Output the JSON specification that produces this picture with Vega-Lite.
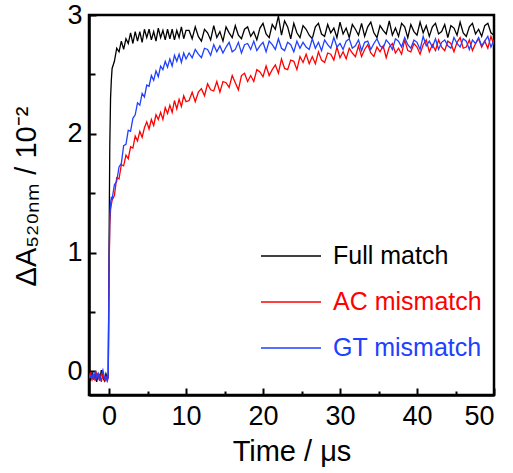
{
"$schema": "https://vega.github.io/schema/vega-lite/v6.json",
"width": 405, "height": 380,
"autosize": {"type": "none"},
"padding": {"left": 89, "top": 15, "right": 19, "bottom": 78},
"background": "white",
"config": {"font": "Liberation Sans", "view": {"stroke": "black", "strokeWidth": 2.5}},
"data": {"values": [
{"t":-2.6,"Full match":-0.04,"AC mismatch":-0.06,"GT mismatch":-0.02},
{"t":-2.4,"Full match":-0.08,"AC mismatch":-0.02,"GT mismatch":-0.05},
{"t":-2.2,"Full match":-0.01,"AC mismatch":-0.07,"GT mismatch":-0.03},
{"t":-2.0,"Full match":-0.06,"AC mismatch":-0.03,"GT mismatch":-0.07},
{"t":-1.8,"Full match":-0.03,"AC mismatch":-0.08,"GT mismatch":0.0},
{"t":-1.6,"Full match":-0.09,"AC mismatch":-0.01,"GT mismatch":-0.06},
{"t":-1.4,"Full match":-0.02,"AC mismatch":-0.06,"GT mismatch":-0.02},
{"t":-1.2,"Full match":-0.07,"AC mismatch":-0.02,"GT mismatch":-0.08},
{"t":-1.0,"Full match":0.01,"AC mismatch":-0.09,"GT mismatch":-0.03},
{"t":-0.8,"Full match":-0.05,"AC mismatch":-0.03,"GT mismatch":0.01},
{"t":-0.6,"Full match":-0.08,"AC mismatch":-0.07,"GT mismatch":-0.05},
{"t":-0.4,"Full match":-0.02,"AC mismatch":-0.04,"GT mismatch":-0.08},
{"t":-0.2,"Full match":-0.06,"AC mismatch":-0.08,"GT mismatch":-0.03},
{"t":-0.1,"Full match":-0.04,"AC mismatch":-0.05,"GT mismatch":-0.06},
{"t":0.0,"Full match":1.0,"AC mismatch":0.8,"GT mismatch":0.85},
{"t":0.1,"Full match":1.9,"AC mismatch":1.22,"GT mismatch":1.28},
{"t":0.2,"Full match":2.3,"AC mismatch":1.36,"GT mismatch":1.42},
{"t":0.3,"Full match":2.45,"AC mismatch":1.4,"GT mismatch":1.46},
{"t":0.4,"Full match":2.55,"AC mismatch":1.44,"GT mismatch":1.45},
{"t":0.7,"Full match":2.61,"AC mismatch":1.48,"GT mismatch":1.57},
{"t":1.0,"Full match":2.72,"AC mismatch":1.63,"GT mismatch":1.60},
{"t":1.3,"Full match":2.69,"AC mismatch":1.62,"GT mismatch":1.72},
{"t":1.6,"Full match":2.78,"AC mismatch":1.74,"GT mismatch":1.75},
{"t":1.9,"Full match":2.71,"AC mismatch":1.73,"GT mismatch":1.90},
{"t":2.2,"Full match":2.80,"AC mismatch":1.82,"GT mismatch":1.91},
{"t":2.5,"Full match":2.76,"AC mismatch":1.79,"GT mismatch":2.03},
{"t":2.8,"Full match":2.85,"AC mismatch":1.89,"GT mismatch":2.02},
{"t":3.1,"Full match":2.76,"AC mismatch":1.88,"GT mismatch":2.13},
{"t":3.4,"Full match":2.86,"AC mismatch":1.98,"GT mismatch":2.16},
{"t":3.7,"Full match":2.78,"AC mismatch":1.94,"GT mismatch":2.26},
{"t":4.0,"Full match":2.86,"AC mismatch":2.02,"GT mismatch":2.24},
{"t":4.3,"Full match":2.77,"AC mismatch":1.97,"GT mismatch":2.34},
{"t":4.6,"Full match":2.88,"AC mismatch":2.05,"GT mismatch":2.31},
{"t":4.9,"Full match":2.81,"AC mismatch":2.10,"GT mismatch":2.41},
{"t":5.2,"Full match":2.88,"AC mismatch":2.04,"GT mismatch":2.40},
{"t":5.5,"Full match":2.79,"AC mismatch":2.12,"GT mismatch":2.49},
{"t":5.8,"Full match":2.86,"AC mismatch":2.07,"GT mismatch":2.45},
{"t":6.1,"Full match":2.78,"AC mismatch":2.16,"GT mismatch":2.53},
{"t":6.4,"Full match":2.89,"AC mismatch":2.12,"GT mismatch":2.48},
{"t":6.7,"Full match":2.81,"AC mismatch":2.18,"GT mismatch":2.57},
{"t":7.0,"Full match":2.87,"AC mismatch":2.12,"GT mismatch":2.54},
{"t":7.3,"Full match":2.79,"AC mismatch":2.22,"GT mismatch":2.61},
{"t":7.6,"Full match":2.88,"AC mismatch":2.17,"GT mismatch":2.56},
{"t":7.9,"Full match":2.80,"AC mismatch":2.24,"GT mismatch":2.63},
{"t":8.2,"Full match":2.88,"AC mismatch":2.18,"GT mismatch":2.57},
{"t":8.5,"Full match":2.79,"AC mismatch":2.28,"GT mismatch":2.66},
{"t":8.8,"Full match":2.87,"AC mismatch":2.21,"GT mismatch":2.61},
{"t":9.1,"Full match":2.81,"AC mismatch":2.29,"GT mismatch":2.67},
{"t":9.4,"Full match":2.90,"AC mismatch":2.23,"GT mismatch":2.60},
{"t":9.7,"Full match":2.80,"AC mismatch":2.32,"GT mismatch":2.68},
{"t":10.0,"Full match":2.87,"AC mismatch":2.27,"GT mismatch":2.63},
{"t":10.4,"Full match":2.87,"AC mismatch":2.28,"GT mismatch":2.68},
{"t":10.8,"Full match":2.80,"AC mismatch":2.35,"GT mismatch":2.64},
{"t":11.2,"Full match":2.90,"AC mismatch":2.27,"GT mismatch":2.71},
{"t":11.6,"Full match":2.82,"AC mismatch":2.35,"GT mismatch":2.67},
{"t":12.0,"Full match":2.78,"AC mismatch":2.38,"GT mismatch":2.64},
{"t":12.4,"Full match":2.88,"AC mismatch":2.32,"GT mismatch":2.72},
{"t":12.8,"Full match":2.85,"AC mismatch":2.42,"GT mismatch":2.71},
{"t":13.2,"Full match":2.79,"AC mismatch":2.37,"GT mismatch":2.66},
{"t":13.6,"Full match":2.91,"AC mismatch":2.36,"GT mismatch":2.75},
{"t":14.0,"Full match":2.81,"AC mismatch":2.44,"GT mismatch":2.69},
{"t":14.4,"Full match":2.86,"AC mismatch":2.35,"GT mismatch":2.74},
{"t":14.8,"Full match":2.78,"AC mismatch":2.44,"GT mismatch":2.68},
{"t":15.2,"Full match":2.90,"AC mismatch":2.43,"GT mismatch":2.73},
{"t":15.6,"Full match":2.85,"AC mismatch":2.39,"GT mismatch":2.77},
{"t":16.0,"Full match":2.81,"AC mismatch":2.49,"GT mismatch":2.69},
{"t":16.4,"Full match":2.91,"AC mismatch":2.43,"GT mismatch":2.71},
{"t":16.8,"Full match":2.83,"AC mismatch":2.37,"GT mismatch":2.77},
{"t":17.2,"Full match":2.80,"AC mismatch":2.49,"GT mismatch":2.68},
{"t":17.6,"Full match":2.88,"AC mismatch":2.51,"GT mismatch":2.75},
{"t":18.0,"Full match":2.90,"AC mismatch":2.44,"GT mismatch":2.76},
{"t":18.4,"Full match":2.82,"AC mismatch":2.49,"GT mismatch":2.71},
{"t":18.8,"Full match":2.86,"AC mismatch":2.44,"GT mismatch":2.78},
{"t":19.2,"Full match":2.79,"AC mismatch":2.54,"GT mismatch":2.70},
{"t":19.6,"Full match":2.89,"AC mismatch":2.52,"GT mismatch":2.74},
{"t":20.0,"Full match":2.93,"AC mismatch":2.48,"GT mismatch":2.77},
{"t":20.4,"Full match":2.84,"AC mismatch":2.57,"GT mismatch":2.69},
{"t":20.8,"Full match":2.81,"AC mismatch":2.49,"GT mismatch":2.78},
{"t":21.2,"Full match":2.92,"AC mismatch":2.54,"GT mismatch":2.75},
{"t":21.6,"Full match":2.88,"AC mismatch":2.58,"GT mismatch":2.71},
{"t":22.0,"Full match":2.99,"AC mismatch":2.51,"GT mismatch":2.80},
{"t":22.4,"Full match":2.83,"AC mismatch":2.63,"GT mismatch":2.72},
{"t":22.8,"Full match":2.95,"AC mismatch":2.55,"GT mismatch":2.70},
{"t":23.2,"Full match":2.90,"AC mismatch":2.54,"GT mismatch":2.77},
{"t":23.6,"Full match":2.80,"AC mismatch":2.62,"GT mismatch":2.75},
{"t":24.0,"Full match":2.93,"AC mismatch":2.61,"GT mismatch":2.69},
{"t":24.4,"Full match":2.85,"AC mismatch":2.54,"GT mismatch":2.78},
{"t":24.8,"Full match":2.81,"AC mismatch":2.65,"GT mismatch":2.72},
{"t":25.2,"Full match":2.91,"AC mismatch":2.60,"GT mismatch":2.77},
{"t":25.6,"Full match":2.88,"AC mismatch":2.67,"GT mismatch":2.73},
{"t":26.0,"Full match":2.83,"AC mismatch":2.59,"GT mismatch":2.71},
{"t":26.4,"Full match":2.80,"AC mismatch":2.65,"GT mismatch":2.80},
{"t":26.8,"Full match":2.90,"AC mismatch":2.59,"GT mismatch":2.72},
{"t":27.2,"Full match":2.93,"AC mismatch":2.69,"GT mismatch":2.77},
{"t":27.6,"Full match":2.84,"AC mismatch":2.62,"GT mismatch":2.70},
{"t":28.0,"Full match":2.82,"AC mismatch":2.60,"GT mismatch":2.79},
{"t":28.4,"Full match":2.92,"AC mismatch":2.68,"GT mismatch":2.75},
{"t":28.8,"Full match":2.85,"AC mismatch":2.67,"GT mismatch":2.72},
{"t":29.2,"Full match":2.89,"AC mismatch":2.62,"GT mismatch":2.81},
{"t":29.6,"Full match":2.81,"AC mismatch":2.73,"GT mismatch":2.73},
{"t":30.0,"Full match":2.94,"AC mismatch":2.64,"GT mismatch":2.76},
{"t":30.4,"Full match":2.84,"AC mismatch":2.69,"GT mismatch":2.71},
{"t":30.8,"Full match":2.89,"AC mismatch":2.63,"GT mismatch":2.78},
{"t":31.2,"Full match":2.81,"AC mismatch":2.72,"GT mismatch":2.80},
{"t":31.6,"Full match":2.92,"AC mismatch":2.68,"GT mismatch":2.72},
{"t":32.0,"Full match":2.88,"AC mismatch":2.65,"GT mismatch":2.74},
{"t":32.4,"Full match":2.83,"AC mismatch":2.74,"GT mismatch":2.79},
{"t":32.8,"Full match":2.93,"AC mismatch":2.65,"GT mismatch":2.70},
{"t":33.2,"Full match":2.82,"AC mismatch":2.71,"GT mismatch":2.77},
{"t":33.6,"Full match":2.90,"AC mismatch":2.75,"GT mismatch":2.78},
{"t":34.0,"Full match":2.94,"AC mismatch":2.68,"GT mismatch":2.71},
{"t":34.4,"Full match":2.85,"AC mismatch":2.65,"GT mismatch":2.76},
{"t":34.8,"Full match":2.81,"AC mismatch":2.73,"GT mismatch":2.80},
{"t":35.2,"Full match":2.91,"AC mismatch":2.69,"GT mismatch":2.74},
{"t":35.6,"Full match":2.87,"AC mismatch":2.74,"GT mismatch":2.72},
{"t":36.0,"Full match":2.84,"AC mismatch":2.64,"GT mismatch":2.79},
{"t":36.4,"Full match":2.95,"AC mismatch":2.73,"GT mismatch":2.76},
{"t":36.8,"Full match":2.83,"AC mismatch":2.76,"GT mismatch":2.71},
{"t":37.2,"Full match":2.89,"AC mismatch":2.68,"GT mismatch":2.80},
{"t":37.6,"Full match":2.82,"AC mismatch":2.72,"GT mismatch":2.78},
{"t":38.0,"Full match":2.93,"AC mismatch":2.67,"GT mismatch":2.73},
{"t":38.4,"Full match":2.90,"AC mismatch":2.79,"GT mismatch":2.81},
{"t":38.8,"Full match":2.81,"AC mismatch":2.70,"GT mismatch":2.75},
{"t":39.2,"Full match":2.92,"AC mismatch":2.69,"GT mismatch":2.72},
{"t":39.6,"Full match":2.86,"AC mismatch":2.76,"GT mismatch":2.79},
{"t":40.0,"Full match":2.83,"AC mismatch":2.73,"GT mismatch":2.77},
{"t":40.4,"Full match":2.94,"AC mismatch":2.67,"GT mismatch":2.71},
{"t":40.8,"Full match":2.85,"AC mismatch":2.75,"GT mismatch":2.82},
{"t":41.2,"Full match":2.91,"AC mismatch":2.79,"GT mismatch":2.74},
{"t":41.6,"Full match":2.82,"AC mismatch":2.69,"GT mismatch":2.78},
{"t":42.0,"Full match":2.90,"AC mismatch":2.75,"GT mismatch":2.73},
{"t":42.4,"Full match":2.93,"AC mismatch":2.70,"GT mismatch":2.80},
{"t":42.8,"Full match":2.84,"AC mismatch":2.79,"GT mismatch":2.71},
{"t":43.2,"Full match":2.86,"AC mismatch":2.73,"GT mismatch":2.77},
{"t":43.6,"Full match":2.92,"AC mismatch":2.70,"GT mismatch":2.79},
{"t":44.0,"Full match":2.81,"AC mismatch":2.78,"GT mismatch":2.74},
{"t":44.4,"Full match":2.91,"AC mismatch":2.76,"GT mismatch":2.72},
{"t":44.8,"Full match":2.89,"AC mismatch":2.69,"GT mismatch":2.81},
{"t":45.2,"Full match":2.83,"AC mismatch":2.77,"GT mismatch":2.76},
{"t":45.6,"Full match":2.94,"AC mismatch":2.81,"GT mismatch":2.73},
{"t":46.0,"Full match":2.85,"AC mismatch":2.72,"GT mismatch":2.80},
{"t":46.4,"Full match":2.82,"AC mismatch":2.73,"GT mismatch":2.78},
{"t":46.8,"Full match":2.90,"AC mismatch":2.79,"GT mismatch":2.71},
{"t":47.2,"Full match":2.93,"AC mismatch":2.70,"GT mismatch":2.79},
{"t":47.6,"Full match":2.84,"AC mismatch":2.76,"GT mismatch":2.76},
{"t":48.0,"Full match":2.88,"AC mismatch":2.80,"GT mismatch":2.81},
{"t":48.4,"Full match":2.82,"AC mismatch":2.73,"GT mismatch":2.74},
{"t":48.8,"Full match":2.91,"AC mismatch":2.78,"GT mismatch":2.78},
{"t":49.2,"Full match":2.93,"AC mismatch":2.72,"GT mismatch":2.82},
{"t":49.6,"Full match":2.85,"AC mismatch":2.82,"GT mismatch":2.73},
{"t":50.0,"Full match":2.83,"AC mismatch":2.75,"GT mismatch":2.79}
]},
"transform": [{"fold": ["Full match", "AC mismatch", "GT mismatch"], "as": ["series", "value"]}],
"encoding": {
  "x": {"field": "t", "type": "quantitative", "scale": {"domain": [-2.6, 50], "nice": false, "zero": false}},
  "y": {"field": "value", "type": "quantitative", "scale": {"domain": [-0.2, 3], "nice": false, "zero": false}}
},
"layer": [
  {
    "mark": {"type": "line", "strokeWidth": 1.3, "clip": true},
    "encoding": {
      "x": {"field": "t", "type": "quantitative", "axis": {"orient": "bottom", "title": "Time / μs", "values": [0, 10, 20, 30, 40, 50], "grid": false, "tickSize": -7, "tickWidth": 2, "tickColor": "black", "domainColor": "black", "domainWidth": 2.5, "labelFontSize": 27, "labelColor": "black", "labelPadding": 15, "labelFont": "Liberation Sans", "titleFont": "Liberation Sans", "titleFontSize": 29, "titleFontWeight": "normal", "titleColor": "black", "titlePadding": 8}},
      "y": {"field": "value", "type": "quantitative", "axis": {"orient": "left", "title": "ΔA₅₂₀ₙₘ / 10⁻²", "values": [0, 1, 2, 3], "grid": false, "tickSize": -7, "tickWidth": 2, "tickColor": "black", "domainColor": "black", "domainWidth": 2.5, "labelFontSize": 27, "labelColor": "black", "labelPadding": 14, "labelFont": "Liberation Sans", "titleFont": "Liberation Sans", "titleFontSize": 29, "titleFontWeight": "normal", "titleColor": "black", "titlePadding": 25, "titleY": 181}},
      "color": {"field": "series", "type": "nominal", "sort": ["Full match", "AC mismatch", "GT mismatch"],
        "scale": {"domain": ["Full match", "AC mismatch", "GT mismatch"], "range": ["#000000", "#ff0000", "#2040ff"]},
        "legend": {"orient": "none", "legendX": 171, "legendY": 210, "title": null, "symbolType": "stroke", "symbolSize": 3600, "symbolStrokeWidth": 1.5, "labelFontSize": 25, "labelFont": "Liberation Sans", "labelOffset": 11, "rowPadding": 2, "padding": 0,
          "encode": {"labels": {"update": {"fill": {"scale": "color", "field": "value"}}}}}}
    }
  },
  {
    "mark": {"type": "point", "opacity": 0},
    "encoding": {
      "x": {"field": "t", "type": "quantitative", "axis": {"orient": "bottom", "title": null, "values": [5, 15, 25, 35, 45], "labels": false, "domain": false, "grid": false, "tickSize": -4, "tickWidth": 2, "tickColor": "black"}},
      "y": {"field": "value", "type": "quantitative", "axis": {"orient": "left", "title": null, "values": [0.5, 1.5, 2.5], "labels": false, "domain": false, "grid": false, "tickSize": -6, "tickWidth": 2, "tickColor": "black"}}
    }
  }
],
"resolve": {"axis": {"x": "independent", "y": "independent"}}
}
